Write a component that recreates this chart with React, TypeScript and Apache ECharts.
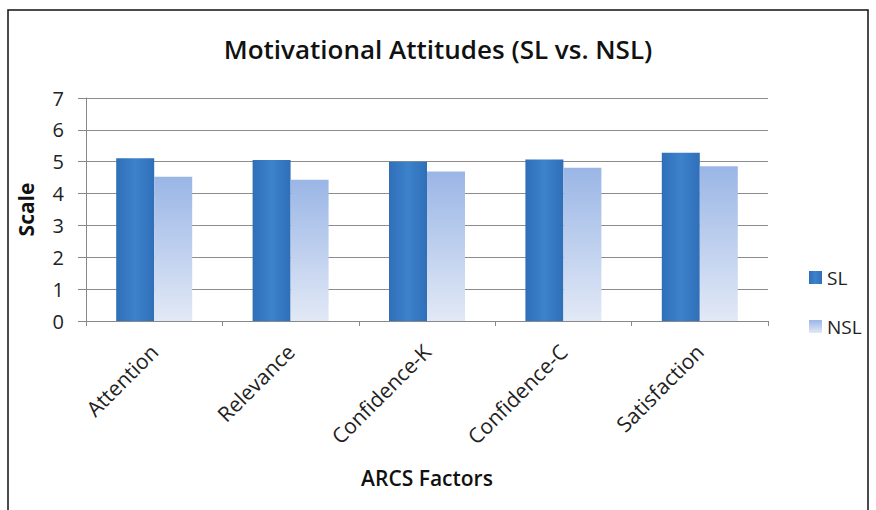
import React, { useEffect, useRef } from "react";
import * as echarts from "echarts";

const categories = ["Attention", "Relevance", "Confidence-K", "Confidence-C", "Satisfaction"];
const slValues = [5.11, 5.05, 5.0, 5.07, 5.28];
const nslValues = [4.53, 4.43, 4.69, 4.81, 4.86];
const seriesNames = ["SL", "NSL"];
const titleText = "Motivational Attitudes (SL vs. NSL)";
const xAxisName = "ARCS Factors";
const yAxisName = "Scale";

const FONT = "Open Sans, Noto Sans, sans-serif";

export default function App() {
  const ref = useRef<HTMLDivElement>(null);
  useEffect(() => {
    if (!ref.current) return;
    const chart = echarts.init(ref.current, undefined, { renderer: "svg" });
    chart.setOption({
      animation: false,
      backgroundColor: "#ffffff",
      graphic: [
        {
          type: "rect",
          shape: { x: 8, y: 10, width: 860, height: 510 },
          style: { fill: "none", stroke: "#111", lineWidth: 1.5 },
          silent: true,
        },
      ],
      title: {
        text: titleText,
        left: "center",
        top: 31,
        textStyle: { fontFamily: FONT, fontSize: 26, fontWeight: 600, color: "#111" },
      },
      legend: {
        orient: "vertical",
        left: 804,
        top: 263,
        itemGap: 30,
        itemWidth: 13,
        itemHeight: 13,
        icon: "rect",
        textStyle: { fontFamily: FONT, fontSize: 19, color: "#222" },
        data: seriesNames,
      },
      grid: { left: 86, right: 108, top: 98, bottom: 189, containLabel: false },
      xAxis: {
        type: "category",
        data: categories,
        name: xAxisName,
        nameLocation: "middle",
        nameGap: 146,
        nameTextStyle: { fontFamily: FONT, fontSize: 21, fontWeight: 600, color: "#111" },
        axisLine: { lineStyle: { color: "#888" } },
        axisTick: { show: true, length: 5, lineStyle: { color: "#888" } },
        axisLabel: {
          rotate: 45,
          interval: 0,
          margin: 27,
          fontFamily: FONT,
          fontSize: 21,
          color: "#222",
        },
      },
      yAxis: {
        type: "value",
        min: 0,
        max: 7,
        interval: 1,
        name: yAxisName,
        nameLocation: "middle",
        nameGap: 50,
        nameTextStyle: { fontFamily: FONT, fontSize: 21, fontWeight: 700, color: "#111" },
        axisLine: { show: true, lineStyle: { color: "#888" } },
        axisTick: { show: true, length: 8, lineStyle: { color: "#888" } },
        axisLabel: { fontFamily: FONT, fontSize: 20, color: "#222", margin: 22 },
        splitLine: { lineStyle: { color: "#8c8c8c", width: 1 } },
      },
      series: [
        {
          name: seriesNames[0],
          type: "bar",
          data: slValues,
          barWidth: 38,
          barGap: "0%",
          itemStyle: {
            color: new echarts.graphic.LinearGradient(0, 0, 1, 0, [
              { offset: 0, color: "#2f6fb8" },
              { offset: 0.5, color: "#3d82cc" },
              { offset: 1, color: "#2f6fb8" },
            ]),
          },
        },
        {
          name: seriesNames[1],
          type: "bar",
          data: nslValues,
          barWidth: 38,
          barGap: "0%",
          itemStyle: {
            color: new echarts.graphic.LinearGradient(0, 0, 0, 1, [
              { offset: 0, color: "#9ab6e6" },
              { offset: 1, color: "#e2e9f6" },
            ]),
          },
        },
      ],
    });
    return () => chart.dispose();
  }, []);
  return (
    <div
      ref={ref}
      style={{ position: "absolute", left: 0, top: 0, width: 876, height: 510 }}
    />
  );
}
